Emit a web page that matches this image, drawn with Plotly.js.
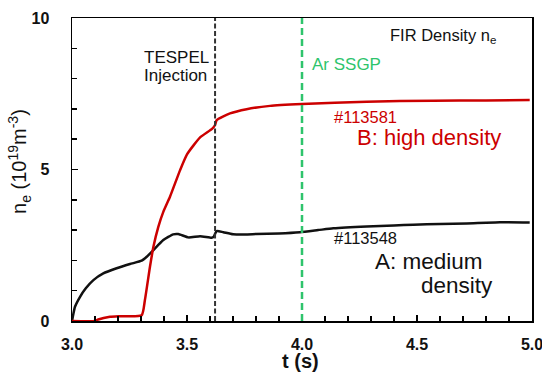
<!DOCTYPE html>
<html><head><meta charset="utf-8">
<script src="https://cdn.plot.ly/plotly-3.0.1.min.js"></script>
<style>html,body{margin:0;padding:0;background:#fff}#chart{width:542px;height:372px}</style>
</head><body><div id="chart"></div>
<script>
// Shot #113548 (A: medium density)
const tA = [3.0, 3.005, 3.013, 3.035, 3.06, 3.093, 3.136, 3.194, 3.252, 3.303, 3.325, 3.354, 3.397, 3.44, 3.462, 3.506, 3.557, 3.607, 3.615, 3.629, 3.658, 3.70, 3.80, 3.90, 3.991, 4.07, 4.136, 4.281, 4.40, 4.484, 4.60, 4.716, 4.861, 4.99];
const nA = [0.0, 0.2, 0.47, 0.8, 1.08, 1.35, 1.57, 1.74, 1.88, 1.99, 2.12, 2.34, 2.67, 2.86, 2.87, 2.76, 2.8, 2.75, 2.77, 2.97, 2.93, 2.86, 2.87, 2.89, 2.93, 3.0, 3.06, 3.12, 3.15, 3.18, 3.2, 3.22, 3.26, 3.25];
// Shot #113581 (B: high density)
const tB = [3.0, 3.10, 3.114, 3.165, 3.209, 3.303, 3.317, 3.339, 3.354, 3.375, 3.397, 3.426, 3.47, 3.50, 3.557, 3.61, 3.622, 3.629, 3.687, 3.759, 3.861, 4.0, 4.281, 4.571, 4.80, 4.99];
const nB = [0.0, 0.0, 0.05, 0.14, 0.16, 0.19, 0.69, 1.79, 2.45, 3.1, 3.6, 4.1, 4.98, 5.5, 6.06, 6.35, 6.47, 6.63, 6.85, 6.99, 7.1, 7.16, 7.24, 7.27, 7.28, 7.29];
// Event markers: TESPEL injection, Ar SSGP
const eventTimes = [3.622, 4.0];
const eventColors = ['#333333', '#2ec46c'];

const font = 'Liberation Sans, Arial, sans-serif';
const traces = [
  {x: tA, y: nA, mode: 'lines', line: {color: '#111111', width: 2.5, shape: 'spline', smoothing: 0.5}, hoverinfo: 'skip'},
  {x: tB, y: nB, mode: 'lines', line: {color: '#cc0000', width: 2.5, shape: 'spline', smoothing: 0.5}, hoverinfo: 'skip'}
];
const shapes = eventTimes.map((t, i) => ({
  type: 'line', xref: 'x', yref: 'paper', x0: t, x1: t, y0: 0, y1: 1,
  line: {color: eventColors[i], width: i === 0 ? 2 : 2.5, dash: i === 0 ? '5px,2.5px' : '7px,4px'}
}));
const ann = (x, y, text, size, color, xanchor) => ({x, y, xref: 'x', yref: 'y', text, showarrow: false,
  font: {family: font, size, color}, xanchor: xanchor || 'left', yanchor: 'middle'});
const layout = {
  width: 542, height: 372,
  margin: {l: 72, r: 10, t: 18, b: 51},
  paper_bgcolor: '#ffffff', plot_bgcolor: '#ffffff',
  showlegend: false,
  xaxis: {range: [3.0, 5.0], dtick: 0.5, tick0: 3.0, tickformat: '.1f', automargin: false,
    ticks: 'inside', ticklen: 6, tickwidth: 1.5, tickcolor: '#000', ticklabelstandoff: 8,
    ticklabeloverflow: 'allow',
    minor: {dtick: 0.1, ticks: 'inside', ticklen: 5, tickwidth: 1.5, tickcolor: '#000'},
    showline: true, linecolor: '#000', linewidth: 1.5, mirror: true, showgrid: false, zeroline: false,
    tickfont: {family: font, size: 16, color: '#111', weight: 'bold'}},
  yaxis: {range: [0, 10], dtick: 5, tick0: 0, automargin: false,
    ticks: 'inside', ticklen: 6, tickwidth: 1.5, tickcolor: '#000', ticklabelstandoff: 18,
    ticklabeloverflow: 'allow',
    minor: {dtick: 1, ticks: 'inside', ticklen: 5, tickwidth: 1.5, tickcolor: '#000'},
    showline: true, linecolor: '#000', linewidth: 1.5, mirror: true, showgrid: false, zeroline: false,
    tickfont: {family: font, size: 16, color: '#111', weight: 'bold'}},
  shapes,
  annotations: [
    {xref: 'paper', yref: 'paper', x: 0.496, y: -0.133, text: 't (s)', showarrow: false,
     xanchor: 'center', yanchor: 'middle', font: {family: font, size: 20, color: '#111', weight: 'bold'}},
    {xref: 'paper', yref: 'paper', x: -0.113, y: 0.525, text: 'n<sub>e</sub> (10<sup>19</sup>m<sup>-3</sup>)', showarrow: false,
     textangle: -90, xanchor: 'center', yanchor: 'middle', font: {family: font, size: 20, color: '#111'}},
    ann(3.454, 8.70, 'TESPEL', 17, '#111', 'center'),
    ann(3.452, 8.09, 'Injection', 17, '#111', 'center'),
    ann(4.035, 8.45, 'Ar SSGP', 17, '#2ec46c'),
    ann(4.374, 9.41, 'FIR Density n<sub>e</sub>', 16.5, '#111'),
    ann(4.13, 6.73, '#113581', 16.5, '#cc0000'),
    ann(4.23, 6.07, 'B: high density', 22, '#cc0000'),
    ann(4.13, 2.74, '#113548', 16.5, '#111'),
    ann(4.31, 1.97, 'A: medium', 22.5, '#111'),
    ann(4.51, 1.17, 'density', 22.5, '#111')
  ]
};
Plotly.newPlot('chart', traces, layout, {displayModeBar: false, staticPlot: true});
</script></body></html>
